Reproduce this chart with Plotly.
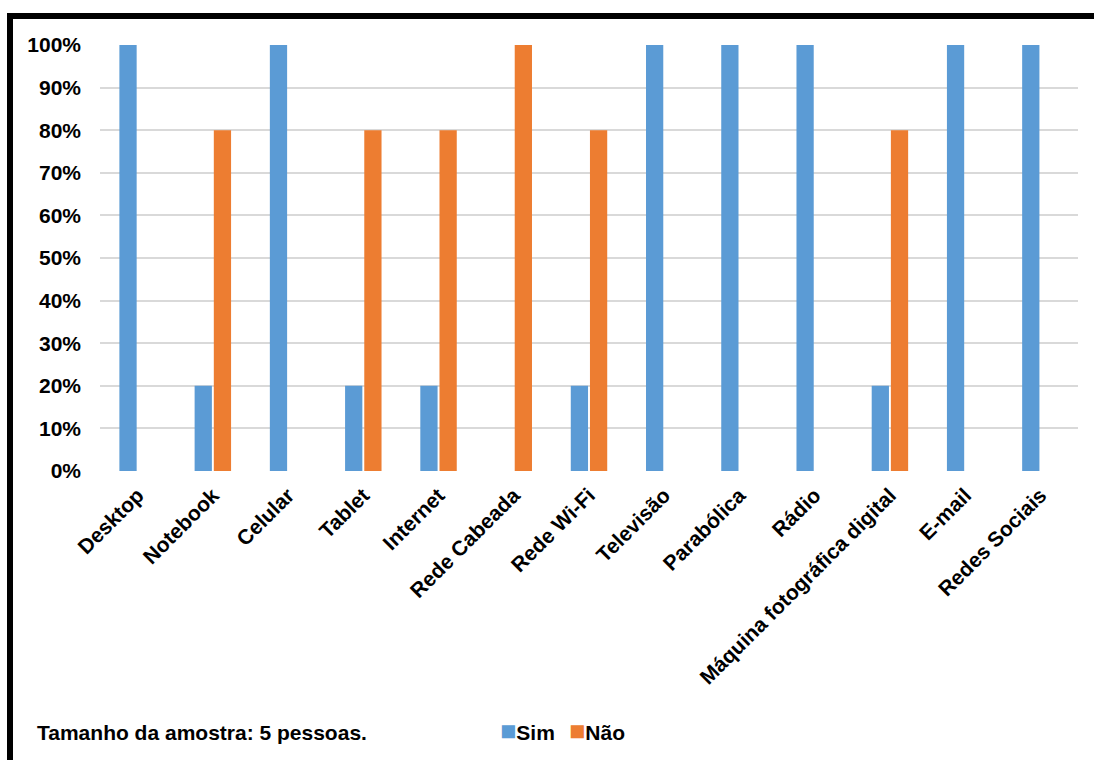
import plotly.graph_objects as go

# Survey data: share of respondents answering "Sim" / "Não" for each item
categories = [
    "Desktop", "Notebook", "Celular", "Tablet", "Internet", "Rede Cabeada",
    "Rede Wi-Fi", "Televisão", "Parabólica", "Rádio",
    "Máquina fotográfica digital", "E-mail", "Redes Sociais",
]
sim = [1.0, 0.2, 1.0, 0.2, 0.2, 0.0, 0.2, 1.0, 1.0, 1.0, 0.2, 1.0, 1.0]
nao = [0.0, 0.8, 0.0, 0.8, 0.8, 1.0, 0.8, 0.0, 0.0, 0.0, 0.8, 0.0, 0.0]
series_names = ["Sim", "Não"]
series_colors = ["#5b9bd5", "#ed7d31"]
y_ticks = [i / 10 for i in range(11)]

W, H = 1094, 760
ML, MR, MT, MB = 100, 16, 45, 289
FONT = "Liberation Sans, Arial, sans-serif"
FS = 21


def px_x(p):
    """Pixel column -> paper x fraction."""
    return (p - ML) / (W - ML - MR)


def px_y(p):
    """Pixel row -> paper y fraction."""
    return 1 - (p - MT) / (H - MT - MB)


fig = go.Figure()
for name, vals, col in zip(series_names, [sim, nao], series_colors):
    fig.add_bar(x=categories, y=vals, name=name, marker_color=col,
                marker_line_width=0)

fig.update_layout(
    width=W, height=H,
    margin=dict(l=ML, r=MR, t=MT, b=MB),
    paper_bgcolor="white", plot_bgcolor="white",
    barmode="group", bargap=0.49, bargroupgap=0.1,
    font=dict(family=FONT, size=FS, color="black", weight="bold"),
    showlegend=False,
)

fig.update_xaxes(
    tickangle=-45, showgrid=False, showline=False, ticks="",
    tickfont=dict(size=FS, weight="bold"), ticklabelstandoff=7,
)
fig.update_yaxes(
    range=[0, 1], tickvals=y_ticks, tickformat=".0%",
    showgrid=True, gridcolor="#d9d9d9", gridwidth=2,
    zeroline=False, showline=False, ticks="",
    tickfont=dict(size=FS, weight="bold"), ticklabelstandoff=18,
)

# Sample-size note at the bottom left
fig.add_annotation(
    text="Tamanho da amostra: 5 pessoas.", xref="paper", yref="paper",
    x=px_x(35), y=px_y(732), xanchor="left", yanchor="middle",
    showarrow=False, font=dict(size=FS, weight="bold"),
)

# Compact legend: coloured square key followed by the series name
for name, col, left in zip(series_names, series_colors, [498, 567]):
    fig.add_annotation(
        text=f"<span style='color:{col};font-size:27px'>■</span>{name}",
        xref="paper", yref="paper", x=px_x(left), y=px_y(731),
        xanchor="left", yanchor="middle", showarrow=False,
        font=dict(size=FS, weight="bold"),
    )

# Black chart frame (only the top and left edges fall inside the page)
fig.add_shape(
    type="rect", xref="paper", yref="paper",
    x0=px_x(10), x1=px_x(1110), y0=px_y(16), y1=px_y(790),
    line=dict(color="black", width=6), fillcolor="rgba(0,0,0,0)",
    layer="above",
)

fig.write_html("out.html")
